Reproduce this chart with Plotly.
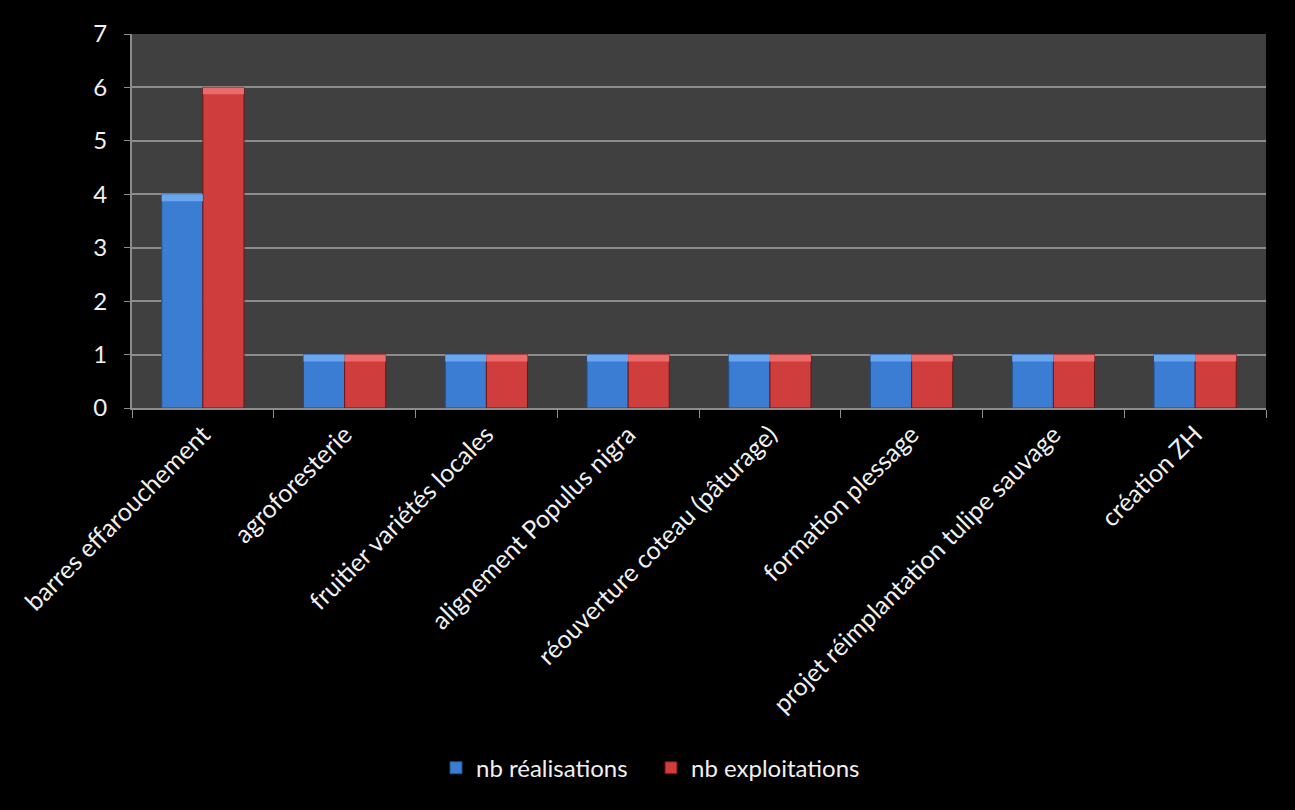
import plotly.graph_objects as go

categories = ["barres effarouchement", "agroforesterie", "fruitier variétés locales",
              "alignement Populus nigra", "réouverture coteau (pâturage)",
              "formation plessage", "projet réimplantation tulipe sauvage", "création ZH"]
nb_realisations = [4, 1, 1, 1, 1, 1, 1, 1]
nb_exploitations = [6, 1, 1, 1, 1, 1, 1, 1]
y_ticks = [0, 1, 2, 3, 4, 5, 6, 7]

FONT = "Lato"
TXT = "#f0f0f0"
BEVEL = 0.13  # height of the lighter top face, in axis units

fig = go.Figure()
fig.add_trace(go.Bar(name="nb réalisations", x=categories, y=nb_realisations,
                     offsetgroup="a", legend="legend",
                     marker=dict(color="#3b7dd2", line=dict(color="#1f4f8f", width=1))))
fig.add_trace(go.Bar(name="nb exploitations", x=categories, y=nb_exploitations,
                     offsetgroup="b", legend="legend2",
                     marker=dict(color="#cf3d3d", line=dict(color="#6e1515", width=1))))
# lighter top bevel
fig.add_trace(go.Bar(x=categories, y=[BEVEL] * len(nb_realisations),
                     base=[v - BEVEL for v in nb_realisations], offsetgroup="a",
                     showlegend=False, hoverinfo="skip",
                     marker=dict(color="#6aa6ee", line=dict(width=0))))
fig.add_trace(go.Bar(x=categories, y=[BEVEL] * len(nb_exploitations),
                     base=[v - BEVEL for v in nb_exploitations], offsetgroup="b",
                     showlegend=False, hoverinfo="skip",
                     marker=dict(color="#ec6a6a", line=dict(width=0))))

leg_font = dict(family=FONT, size=24, color=TXT)
fig.update_layout(
    width=1295, height=810,
    paper_bgcolor="#000000", plot_bgcolor="#404040",
    margin=dict(l=132, r=29, t=34, b=402),
    barmode="group", bargap=0.42, bargroupgap=0,
    font=dict(family=FONT, size=24, color=TXT),
    showlegend=True,
    legend=dict(x=(436 - 132) / 1134, xanchor="left", y=-0.963, yanchor="middle",
                font=leg_font, bgcolor="rgba(0,0,0,0)", itemwidth=30),
    legend2=dict(x=(651 - 132) / 1134, xanchor="left", y=-0.963, yanchor="middle",
                 font=leg_font, bgcolor="rgba(0,0,0,0)", itemwidth=30),
)
fig.update_xaxes(type="category", tickangle=-45, tickson="boundaries",
                 ticks="outside", ticklen=8, tickcolor="#8c8c8c",
                 showline=True, linecolor="#8c8c8c", linewidth=2,
                 showgrid=False, tickfont=dict(family=FONT, size=25, color=TXT))
fig.update_yaxes(range=[0, 7], tickvals=y_ticks, ticks="outside", ticklen=6,
                 tickcolor="#8c8c8c", showline=True, linecolor="#8c8c8c", linewidth=2,
                 gridcolor="#8c8c8c", gridwidth=1.5, zeroline=False,
                 ticklabelstandoff=12,
                 tickfont=dict(family=FONT, size=24, color=TXT))

fig.write_html("out.html", config={"displayModeBar": False},
               post_script="document.body.style.margin='0';document.body.style.background='#000';")
